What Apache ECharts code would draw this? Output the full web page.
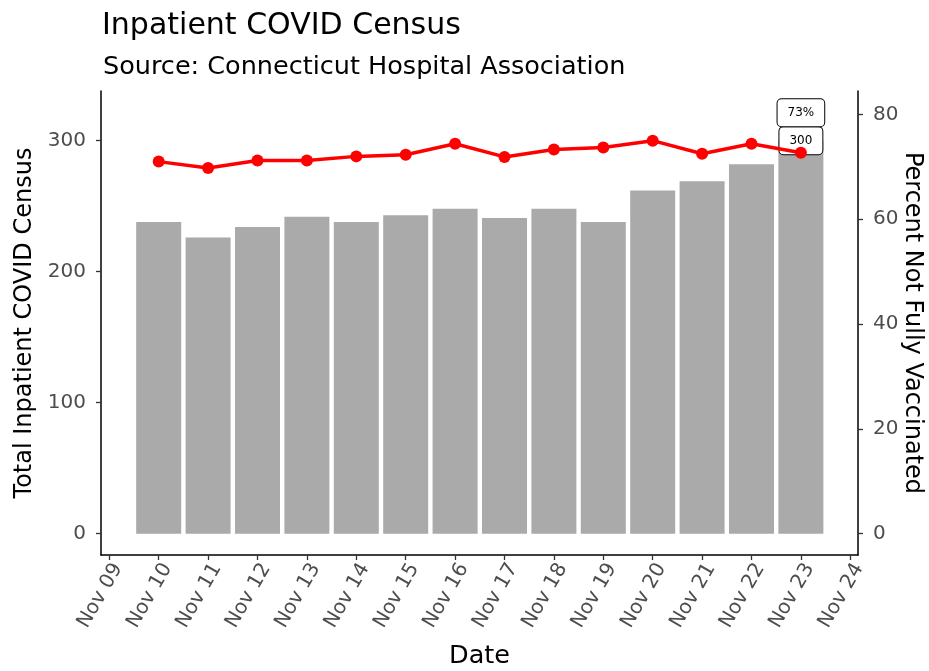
<!DOCTYPE html>
<html>
<head>
<meta charset="utf-8">
<title>Inpatient COVID Census</title>
<script src="https://cdn.jsdelivr.net/npm/echarts@6/dist/echarts.min.js"></script>
<style>
  html, body { margin: 0; padding: 0; background: #fff; }
  #chart { width: 929px; height: 671px; }
</style>
</head>
<body>
<div id="chart"></div>
<script>
  // day of month (November)
  var days = [10, 11, 12, 13, 14, 15, 16, 17, 18, 19, 20, 21, 22, 23]
  var census = [238, 226, 234, 242, 238, 243, 248, 241, 248, 238, 262, 269, 282, 300]
  var pctNotVax = [71.0, 69.8, 71.2, 71.2, 72.0, 72.3, 74.4, 71.9, 73.3, 73.7, 75.0, 72.5, 74.4, 72.7]
  var xTicks = [9, 10, 11, 12, 13, 14, 15, 16, 17, 18, 19, 20, 21, 22, 23, 24]
  var leftTicks = [0, 100, 200, 300]
  var rightTicks = [0, 20, 40, 60, 80]

  var FONT = 'DejaVu Sans'
  var last = days.length - 1

  var barData = days.map(function (d, i) {
    var item = { value: [d, census[i]] }
    if (i === last) {
      item.label = {
        show: true,
        position: ['50%', 0],
        align: 'center',
        verticalAlign: 'middle',
        formatter: String(census[i])
      }
    }
    return item
  })
  var lineData = days.map(function (d, i) {
    var item = { value: [d, pctNotVax[i]] }
    if (i === last) {
      item.label = {
        show: true,
        position: 'inside',
        offset: [0, -40],
        formatter: Math.round(pctNotVax[i]) + '%'
      }
    }
    return item
  })

  var boxLabel = {
    fontFamily: FONT,
    fontSize: 12,
    color: '#000',
    backgroundColor: '#fff',
    borderColor: '#000',
    borderWidth: 1,
    borderRadius: 4,
    padding: [8, 10, 7, 10]
  }

  var chart = echarts.init(document.getElementById('chart'))
  chart.setOption({
    animation: false,
    backgroundColor: '#fff',
    title: [{
      text: 'Inpatient COVID Census',
      left: 97,
      top: 6,
      textStyle: { fontFamily: FONT, fontSize: 30, fontWeight: 'normal', color: '#000' }
    }, {
      text: 'Source: Connecticut Hospital Association',
      left: 98,
      top: 49,
      textStyle: { fontFamily: FONT, fontSize: 25.5, fontWeight: 'normal', color: '#000' }
    }],
    grid: {
      left: 101,
      right: 71,
      top: 91,
      bottom: 116,
      outerBoundsMode: 'none'
    },
    xAxis: {
      type: 'value',
      min: 8.832,
      max: 24.156,
      name: 'Date',
      nameLocation: 'middle',
      nameGap: 88,
      nameMoveOverlap: false,
      nameTextStyle: { fontFamily: FONT, fontSize: 25.5, color: '#000' },
      axisLine: { onZero: false, lineStyle: { color: '#000', width: 1.5 } },
      axisTick: { length: 5, customValues: xTicks, lineStyle: { color: '#333', width: 1.3 } },
      axisLabel: {
        customValues: xTicks,
        rotate: 60,
        margin: 5,
        verticalAlign: 'top',
        fontFamily: FONT,
        fontSize: 20,
        color: '#4d4d4d',
        formatter: function (v) {
          return 'Nov ' + (v < 10 ? '0' + v : v)
        }
      },
      splitLine: { show: false }
    },
    yAxis: [{
      type: 'value',
      min: -16.26,
      max: 337.9,
      name: 'Total Inpatient COVID Census',
      nameLocation: 'middle',
      nameRotate: 90,
      nameGap: 64,
      nameMoveOverlap: false,
      nameTextStyle: { fontFamily: FONT, fontSize: 24, color: '#000' },
      axisLine: { show: true, onZero: false, lineStyle: { color: '#000', width: 1.5 } },
      axisTick: { show: true, length: 5, customValues: leftTicks, lineStyle: { color: '#333', width: 1.3 } },
      axisLabel: {
        customValues: leftTicks,
        margin: 15,
        fontFamily: FONT,
        fontSize: 20,
        color: '#4d4d4d'
      },
      splitLine: { show: false }
    }, {
      type: 'value',
      position: 'right',
      min: -16.26 / 4,
      max: 337.9 / 4,
      name: 'Percent Not Fully Vaccinated',
      nameLocation: 'middle',
      nameRotate: -90,
      nameGap: 42,
      nameMoveOverlap: false,
      nameTextStyle: { fontFamily: FONT, fontSize: 24, color: '#000' },
      axisLine: { show: true, onZero: false, lineStyle: { color: '#000', width: 1.5 } },
      axisTick: { show: true, length: 5, customValues: rightTicks, lineStyle: { color: '#333', width: 1.3 } },
      axisLabel: {
        customValues: rightTicks,
        margin: 15,
        fontFamily: FONT,
        fontSize: 20,
        color: '#4d4d4d'
      },
      splitLine: { show: false }
    }],
    series: [{
      name: 'Census',
      type: 'bar',
      barWidth: 45,
      itemStyle: { color: '#aaaaaa' },
      label: boxLabel,
      data: barData
    }, {
      name: 'Percent Not Fully Vaccinated',
      type: 'line',
      yAxisIndex: 1,
      symbol: 'circle',
      symbolSize: 12,
      lineStyle: { color: '#ff0000', width: 3.5 },
      itemStyle: { color: '#ff0000' },
      label: boxLabel,
      data: lineData
    }]
  })
</script>
</body>
</html>
